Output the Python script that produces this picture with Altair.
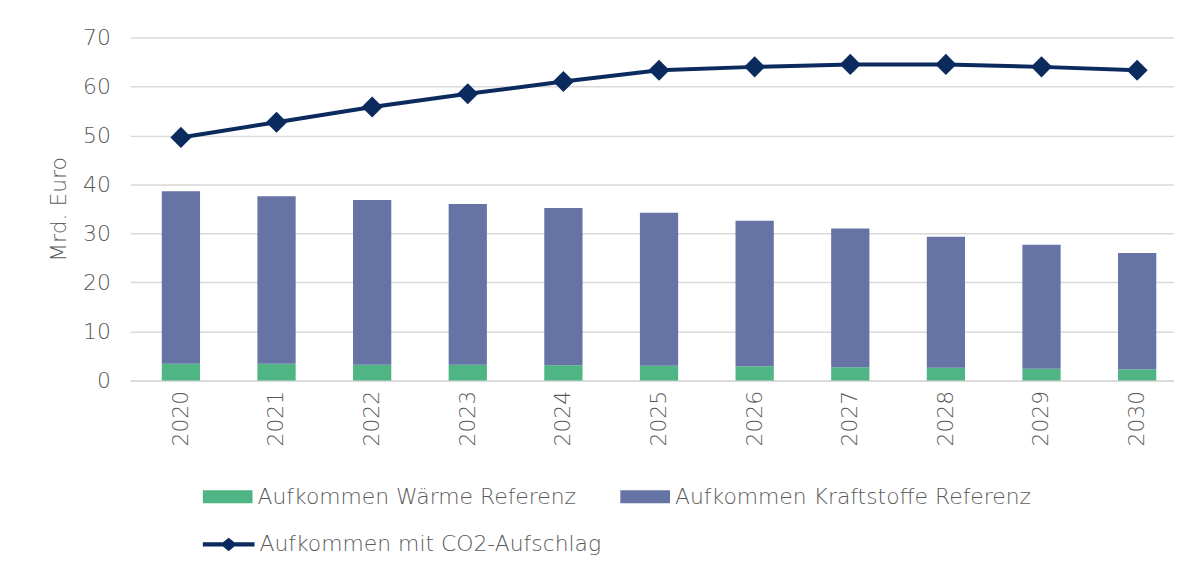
import altair as alt
import pandas as pd

years = [str(y) for y in range(2020, 2031)]
waerme = [3.4, 3.4, 3.2, 3.2, 3.1, 3.0, 2.9, 2.7, 2.6, 2.4, 2.3]
kraftstoffe = [35.2, 34.2, 33.6, 32.8, 32.1, 31.2, 29.7, 28.3, 26.7, 25.3, 23.7]
co2 = [49.6, 52.7, 55.8, 58.5, 61.0, 63.3, 64.0, 64.5, 64.5, 64.0, 63.3]
y_ticks = [0, 10, 20, 30, 40, 50, 60, 70]

S_W = "Aufkommen Wärme Referenz"
S_K = "Aufkommen Kraftstoffe Referenz"
S_C = "Aufkommen mit CO2-Aufschlag"

GREEN = "#4FB584"
PURPLE = "#6673A5"
NAVY = "#0B2A5E"
GRID = "#D9D9D9"
TXT = "#595959"
FONT = "DejaVu Sans"
FS = 22
FW = 200

bars_df = pd.DataFrame({
    "Jahr": years * 2,
    "Serie": [S_W] * len(years) + [S_K] * len(years),
    "Wert": waerme + kraftstoffe,
    "ord": [0] * len(years) + [1] * len(years),
})
line_df = pd.DataFrame({"Jahr": years, "Serie": [S_C] * len(years), "Wert": co2})

x = alt.X(
    "Jahr:N", sort=years, title=None,
    scale=alt.Scale(paddingInner=0.6, paddingOuter=0.2575, align=0.64),
    axis=alt.Axis(labelAngle=-90, labelAlign="right", labelBaseline="middle",
                  labelPadding=10, ticks=False, domainColor=GRID, domainWidth=1.5,
                  labelFont=FONT, labelFontSize=FS, labelFontWeight=FW, labelColor=TXT),
)
y = alt.Y(
    "Wert:Q", stack="zero", scale=alt.Scale(domain=[0, 70]),
    axis=alt.Axis(values=y_ticks, title="Mrd. Euro", ticks=False, domain=False,
                  gridColor=GRID, gridWidth=1.5, labelPadding=20,
                  labelFont=FONT, labelFontSize=FS, labelFontWeight=FW, labelColor=TXT,
                  titleFont=FONT, titleFontSize=FS, titleFontWeight=FW, titleColor=TXT,
                  titlePadding=12),
)

bar_path = "M-1,-0.26H1V0.26H-1Z"
line_path = "M-1,-0.08H-0.22L0,-0.26L0.22,-0.08H1V0.08H0.22L0,0.26L-0.22,0.08H-1Z"

bars = alt.Chart(bars_df).mark_bar().encode(
    x=x, y=y,
    color=alt.Color("Serie:N", scale=alt.Scale(domain=[S_W, S_K], range=[GREEN, PURPLE]),
                    legend=alt.Legend(title=None, orient="none", legendX=73, legendY=437,
                                      direction="horizontal", columns=2, columnPadding=44,
                                      symbolType=bar_path, symbolSize=2500, symbolStrokeWidth=0,
                                      labelFont=FONT, labelFontSize=FS, labelFontWeight=FW,
                                      labelColor=TXT, labelOffset=5, labelLimit=0)),
    order=alt.Order("ord:Q"),
)

line = alt.Chart(line_df).mark_line(color=NAVY, strokeWidth=4).encode(x=x, y=alt.Y("Wert:Q"))
points = alt.Chart(line_df).mark_point(filled=True, shape="diamond", size=450, opacity=1).encode(
    x=x, y=alt.Y("Wert:Q"),
    color=alt.Color("Serie:N", scale=alt.Scale(domain=[S_C], range=[NAVY]),
                    legend=alt.Legend(title=None, orient="none", legendX=73, legendY=484,
                                      symbolType=line_path, symbolSize=2700, symbolStrokeWidth=0,
                                      symbolOpacity=1,
                                      labelFont=FONT, labelFontSize=FS, labelFontWeight=FW,
                                      labelColor=TXT, labelOffset=5, labelLimit=0)),
)

chart = alt.layer(bars, line, points).resolve_scale(color="independent").properties(
    width=1050, height=345,
    padding={"left": 40, "top": 17, "right": 0, "bottom": 0},
).configure_view(stroke=None)

chart.save("out.html", embed_options={"renderer": "svg", "actions": False})
